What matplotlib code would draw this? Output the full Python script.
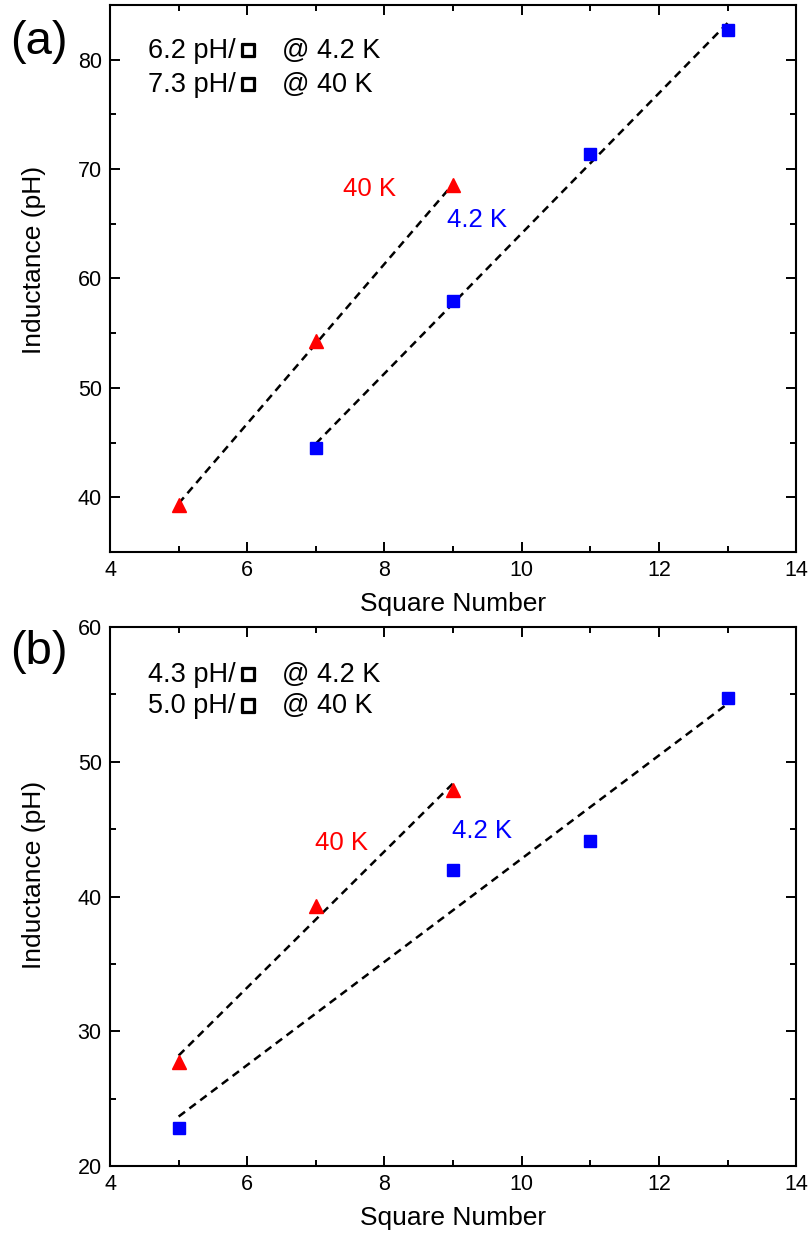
import numpy as np
import matplotlib.pyplot as plt
import matplotlib.patheffects as pe
from matplotlib.ticker import MultipleLocator

plt.rcParams['font.family'] = ['Liberation Sans', 'DejaVu Sans']

# panel (a) data
a_x_40K = [5, 7, 9]
a_y_40K = [39.3, 54.3, 68.5]
a_x_4K = [7, 9, 11, 13]
a_y_4K = [44.5, 57.9, 71.4, 82.7]

# panel (b) data
b_x_40K = [5, 7, 9]
b_y_40K = [27.7, 39.3, 47.9]
b_x_4K = [5, 9, 11, 13]
b_y_4K = [22.8, 42.0, 44.1, 54.7]

a_slopes = ['6.2', '7.3']
b_slopes = ['4.3', '5.0']
temps = ['4.2 K', '40 K']

fig = plt.figure(figsize=(8.12, 12.36), dpi=100)
ax_a = fig.add_axes([0.1355, 0.5534, 0.845, 0.4426])
ax_b = fig.add_axes([0.1355, 0.0566, 0.845, 0.4361])


def fit_line(ax, x, y):
    k, b = np.polyfit(x, y, 1)
    xs = np.array([min(x), max(x)])
    ax.plot(xs, k * xs + b, color='black', ls=(0, (3.2, 2.2)), lw=1.8, zorder=2)


def style(ax, ylim, ylab_y):
    ax.set_xlim(4, 14)
    ax.set_ylim(*ylim)
    ax.xaxis.set_major_locator(MultipleLocator(2))
    ax.xaxis.set_minor_locator(MultipleLocator(1))
    ax.yaxis.set_major_locator(MultipleLocator(10))
    ax.yaxis.set_minor_locator(MultipleLocator(5))
    ax.tick_params(which='both', direction='in', top=True, right=True, width=1.4)
    ax.tick_params(which='major', length=7, labelsize=15.5, pad=6)
    ax.tick_params(which='minor', length=4)
    for s in ax.spines.values():
        s.set_linewidth(1.5)
    ax.set_xlabel('Square Number', fontsize=19, labelpad=8)
    ax.set_ylabel('Inductance (pH)', fontsize=19)
    ax.yaxis.set_label_coords(-0.093, ylab_y)


def notes(ax, slopes, ys):
    # slope text, the per-square sign, then the temperature
    for s, t, y in zip(slopes, temps, ys):
        ax.text(0.0554, y, s + ' pH/', transform=ax.transAxes, fontsize=19.5)
        ax.text(0.1895, y + 0.005, '\u25a1', transform=ax.transAxes, fontsize=12.5,
                family='DejaVu Sans',
                path_effects=[pe.withStroke(linewidth=1.6, foreground='black')])
        ax.text(0.2507, y, '@ ' + t, transform=ax.transAxes, fontsize=19.5)


for ax, x40, y40, x4, y4 in [(ax_a, a_x_40K, a_y_40K, a_x_4K, a_y_4K),
                             (ax_b, b_x_40K, b_y_40K, b_x_4K, b_y_4K)]:
    fit_line(ax, x40, y40)
    fit_line(ax, x4, y4)
    ax.plot(x40, y40, '^', color='red', ms=10, mec='red', zorder=3, clip_on=False)
    ax.plot(x4, y4, 's', color='blue', ms=8.5, mec='blue', zorder=3, clip_on=False)

style(ax_a, (35, 85), 0.534)
style(ax_b, (20, 60), 0.54)

notes(ax_a, a_slopes, [0.903, 0.841])
notes(ax_b, b_slopes, [0.898, 0.840])

ax_a.text(7.40, 68.2, '40 K', color='red', fontsize=18.5, va='center')
ax_a.text(8.91, 65.3, '4.2 K', color='blue', fontsize=18.5, va='center')
ax_b.text(6.99, 44.0, '40 K', color='red', fontsize=18.5, va='center')
ax_b.text(8.99, 44.9, '4.2 K', color='blue', fontsize=18.5, va='center')

fig.text(0.012, 0.966, '(a)', fontsize=34, va='center')
fig.text(0.012, 0.4725, '(b)', fontsize=34, va='center')

fig.savefig('out.png', dpi=100)
